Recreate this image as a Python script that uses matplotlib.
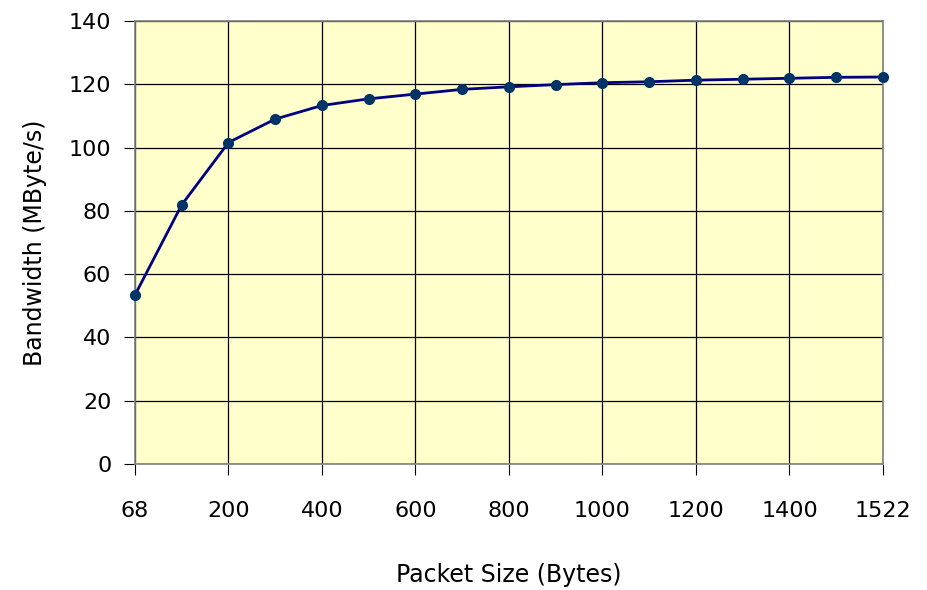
import matplotlib.pyplot as plt

packet_sizes = [68, 100, 200, 300, 400, 500, 600, 700, 800, 900,
                1000, 1100, 1200, 1300, 1400, 1500, 1522]
bandwidth = [53.4, 81.9, 101.6, 109.0, 113.3, 115.4, 116.9, 118.4, 119.2, 119.9,
             120.5, 120.8, 121.3, 121.6, 121.9, 122.2, 122.3]
tick_labels = ["68", "200", "400", "600", "800", "1000", "1200", "1400", "1522"]

plt.rcParams["font.family"] = ["DejaVu Sans"]

fig = plt.figure(figsize=(9.27, 5.9), dpi=100)
ax = fig.add_axes([0.1456, 0.2136, 0.8069, 0.7508])
ax.set_facecolor("#FFFFCC")

positions = list(range(len(packet_sizes)))
ax.plot(positions, bandwidth, color="#000080", linewidth=2,
        marker="o", markersize=7, markerfacecolor="#003366", markeredgecolor="#003366",
        clip_on=False, zorder=3)

ax.set_xlim(0, len(packet_sizes) - 1)
ax.set_ylim(0, 140)
ax.set_xticks(positions[::2])
ax.set_xticklabels(tick_labels)
ax.set_yticks(range(0, 141, 20))

ax.grid(True, color="black", linewidth=0.9)
ax.set_axisbelow(True)
for s in ax.spines.values():
    s.set_color("#808080")
    s.set_linewidth(1.2)

ax.tick_params(axis="x", direction="out", length=8, pad=19, labelsize=16)
ax.tick_params(axis="y", direction="out", length=8, pad=9, labelsize=16)

ax.set_xlabel("Packet Size (Bytes)", fontsize=17, labelpad=30)
ax.set_ylabel("Bandwidth (MByte/s)", fontsize=17, labelpad=16)

fig.savefig("out.png", dpi=100)
